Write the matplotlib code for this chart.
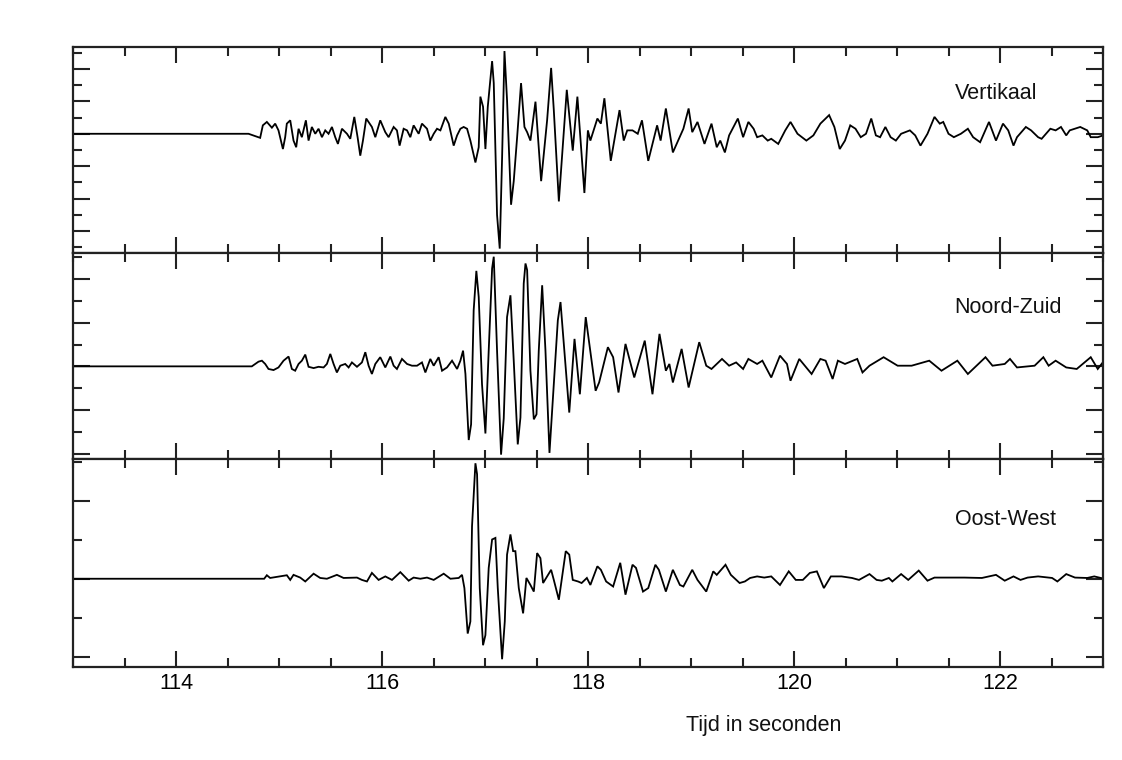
import matplotlib
matplotlib.use("Agg")
import matplotlib.pyplot as plt
from matplotlib.ticker import MultipleLocator
from matplotlib import font_manager

# ---------------- data (time in s, amplitude in panel tick units) ----------------
vert_t = [113.0, 114.704, 114.817, 114.843, 114.882, 114.931, 114.963, 114.995, 115.038, 115.060,
          115.076, 115.109, 115.141, 115.167, 115.190, 115.222, 115.261, 115.287, 115.319, 115.352,
          115.384, 115.417, 115.449, 115.481, 115.514, 115.546, 115.572, 115.611, 115.660, 115.692,
          115.731, 115.763, 115.789, 115.815, 115.847, 115.902, 115.935, 115.983, 116.032, 116.064,
          116.113, 116.145, 116.171, 116.210, 116.243, 116.275, 116.307, 116.356, 116.388, 116.437,
          116.469, 116.502, 116.534, 116.567, 116.615, 116.648, 116.696, 116.729, 116.761, 116.793,
          116.826, 116.858, 116.907, 116.939, 116.955, 116.981, 117.004, 117.027, 117.069, 117.085,
          117.117, 117.143, 117.166, 117.189, 117.214, 117.253, 117.279, 117.312, 117.350, 117.383,
          117.409, 117.441, 117.490, 117.545, 117.603, 117.642, 117.668, 117.717,
          117.794, 117.852, 117.897, 117.965, 117.999, 118.023, 118.091, 118.125, 118.159, 118.221,
          118.306, 118.347, 118.381, 118.432, 118.483, 118.524, 118.585, 118.671, 118.705, 118.756,
          118.824, 118.926, 118.977, 119.012, 119.063, 119.131, 119.199, 119.250, 119.284, 119.329,
          119.370, 119.455, 119.506, 119.557, 119.608, 119.642, 119.693, 119.745, 119.779, 119.847,
          119.915, 119.966, 120.034, 120.120, 120.188, 120.256, 120.341, 120.392, 120.444, 120.495,
          120.546, 120.597, 120.648, 120.699, 120.750, 120.795, 120.836, 120.887, 120.938, 120.989,
          121.040, 121.125, 121.177, 121.228, 121.296, 121.364, 121.415, 121.449, 121.500, 121.552,
          121.620, 121.688, 121.739, 121.807, 121.893, 121.961, 122.029, 122.080, 122.131, 122.165,
          122.251, 122.302, 122.370, 122.404, 122.489, 122.540, 122.592, 122.643, 122.677, 122.779,
          122.847, 122.881, 122.949, 123.001]
vert_a = [0.0, 0.0, -0.25, 0.52, 0.73, 0.375, 0.625, 0.21, -0.94, -0.21,
          0.625, 0.83, -0.42, -0.83, 0.31, -0.21, 0.83, -0.42, 0.42, 0.0,
          0.31, -0.21, 0.21, 0.0, 0.42, -0.21, -0.625, 0.31, 0.0, -0.31,
          1.04, -0.21, -1.35, -0.42, 0.94, 0.42, -0.21, 0.83, 0.1, -0.21,
          0.42, 0.21, -0.73, 0.31, 0.21, -0.21, 0.52, 0.0, 0.625, 0.31,
          -0.42, 0.0, 0.31, 0.21, 1.04, 0.625, -0.73, -0.1, 0.31, 0.42,
          0.31, -0.42, -1.77, -0.83, 2.29, 1.67, -0.94, 1.67, 4.48, 3.125,
          -5.0, -7.08, -1.46, 5.10, 2.08, -4.375, -2.92, -0.21, 3.125, 0.42,
          0.1, -0.42, 1.98, -2.92, 0.83, 4.06, 1.46, -4.17,
          2.71, -1.04, 2.29, -3.65, 0.21, -0.42, 0.94, 0.625, 2.19, -1.67,
          1.46, -0.42, 0.21, 0.21, 0.0, 0.83, -1.67, 0.52, -0.42, 1.56,
          -1.15, 0.31, 1.56, 0.1, 0.73, -0.625, 0.625, -0.83, -0.42, -1.15,
          -0.1, 0.94, -0.21, 0.73, 0.31, -0.21, -0.1, -0.42, -0.31, -0.625,
          0.21, 0.73, 0.0, -0.42, -0.1, 0.625, 1.15, 0.42, -0.94, -0.42,
          0.52, 0.31, -0.21, 0.0, 0.94, -0.1, -0.21, 0.42, -0.21, -0.42,
          0.0, 0.21, -0.1, -0.73, 0.0, 1.04, 0.625, 0.73, 0.0, -0.21,
          0.0, 0.31, -0.21, -0.52, 0.73, -0.42, 0.625, 0.21, -0.73, -0.21,
          0.42, 0.21, -0.21, -0.31, 0.31, 0.21, 0.42, -0.1, 0.21, 0.42,
          0.21, -0.21, -0.21, -0.1]

nz_t = [113.0, 114.736, 114.801, 114.834, 114.866, 114.898, 114.947, 114.995, 115.044, 115.093,
        115.125, 115.157, 115.190, 115.222, 115.255, 115.287, 115.336, 115.384, 115.433, 115.465,
        115.498, 115.530, 115.562, 115.595, 115.643, 115.676, 115.708, 115.757, 115.805, 115.838,
        115.870, 115.902, 115.935, 115.983, 116.032, 116.081, 116.113, 116.145, 116.194, 116.243,
        116.291, 116.340, 116.388, 116.421, 116.469, 116.502, 116.550, 116.583, 116.631, 116.680,
        116.729, 116.761, 116.787, 116.810, 116.842, 116.865, 116.890, 116.916, 116.939, 116.971,
        117.004, 117.036, 117.069, 117.085, 117.117, 117.156, 117.182, 117.214, 117.247, 117.279,
        117.318, 117.344, 117.376, 117.393, 117.409, 117.441, 117.474, 117.500, 117.522, 117.555,
        117.587, 117.626, 117.668, 117.707, 117.733,
        117.818, 117.869, 117.921, 117.978, 118.074, 118.108, 118.193, 118.244, 118.296, 118.364,
        118.449, 118.551, 118.626, 118.694, 118.756, 118.790, 118.824, 118.909, 118.977, 119.080,
        119.148, 119.199, 119.301, 119.370, 119.438, 119.506, 119.557, 119.642, 119.693, 119.779,
        119.864, 119.932, 119.966, 120.051, 120.171, 120.256, 120.307, 120.375, 120.426, 120.495,
        120.614, 120.665, 120.733, 120.870, 121.006, 121.142, 121.313, 121.432, 121.586, 121.688,
        121.859, 121.927, 122.046, 122.097, 122.165, 122.336, 122.421, 122.472, 122.540, 122.643,
        122.745, 122.881, 122.949, 123.011]
nz_a = [0.0, 0.0, 0.215, 0.26, 0.11, -0.12, -0.17, -0.05, 0.26, 0.45,
        -0.12, -0.2, 0.11, 0.26, 0.54, -0.02, -0.08, -0.02, -0.05, 0.11,
        0.57, 0.11, -0.28, 0.03, 0.11, -0.05, 0.18, -0.02, 0.18, 0.65,
        0.03, -0.35, 0.11, 0.42, -0.05, 0.45, 0.03, -0.12, 0.34, 0.11,
        0.03, 0.03, 0.18, -0.28, 0.34, 0.03, 0.42, -0.2, -0.05, 0.26,
        -0.12, 0.26, 0.72, -0.35, -3.38, -2.66, 2.57, 4.38, 3.18, -0.82,
        -3.08, 0.72, 4.49, 5.03, 0.72, -4.05, -2.38, 2.26, 3.26, 0.26,
        -3.58, -2.35, 3.8, 4.72, 4.42, -0.2, -2.43, -2.2, 0.72, 3.72,
        0.72, -3.97, -0.82, 2.11, 2.95,
        -2.12, 1.26, -1.28, 2.26, -1.12, -0.74, 0.88, 0.42, -1.2, 1.03,
        -0.51, 1.18, -1.28, 1.49, -0.2, 0.11, -0.74, 0.8, -0.97, 1.11,
        0.03, -0.12, 0.34, 0.03, 0.18, -0.12, 0.34, 0.11, 0.26, -0.51,
        0.49, 0.11, -0.66, 0.34, -0.35, 0.34, 0.26, -0.58, 0.26, 0.11,
        0.34, -0.28, 0.03, 0.42, 0.03, 0.03, 0.26, -0.2, 0.26, -0.35,
        0.42, 0.03, 0.11, 0.34, -0.05, 0.03, 0.42, 0.03, 0.26, -0.05,
        -0.12, 0.42, -0.12, 0.26]

ow_t = [113.0, 114.856, 114.882, 114.914, 115.076, 115.109, 115.141, 115.206, 115.255, 115.336,
        115.400, 115.465, 115.562, 115.627, 115.757, 115.805, 115.854, 115.902, 115.967, 116.032,
        116.097, 116.178, 116.259, 116.307, 116.372, 116.437, 116.502, 116.599, 116.664, 116.745,
        116.777, 116.800, 116.832, 116.858, 116.874, 116.907, 116.923, 116.949, 116.981, 117.004,
        117.036, 117.069, 117.101, 117.124, 117.166, 117.192, 117.214, 117.247, 117.273, 117.295,
        117.328, 117.370, 117.402, 117.441, 117.474, 117.506, 117.538, 117.564, 117.603, 117.642,
        117.668, 117.717,
        117.784, 117.818, 117.852, 117.903, 117.938, 117.989, 118.023, 118.091, 118.125, 118.176,
        118.244, 118.313, 118.364, 118.432, 118.466, 118.534, 118.585, 118.654, 118.688, 118.756,
        118.824, 118.892, 118.926, 119.012, 119.063, 119.148, 119.216, 119.250, 119.335, 119.387,
        119.472, 119.523, 119.574, 119.642, 119.711, 119.779, 119.864, 119.949, 120.017, 120.086,
        120.154, 120.222, 120.290, 120.358, 120.461, 120.563, 120.631, 120.733, 120.802, 120.853,
        120.921, 120.955, 121.040, 121.109, 121.211, 121.296, 121.364, 121.483, 121.654, 121.824,
        121.961, 122.046, 122.131, 122.199, 122.268, 122.370, 122.506, 122.557, 122.643, 122.728,
        122.847, 122.915, 123.011]
ow_a = [0.0, 0.0, 0.09, 0.02, 0.09, -0.03, 0.1, 0.03, -0.07, 0.13,
        0.02, 0.0, 0.1, 0.02, 0.03, -0.03, -0.07, 0.15, -0.03, 0.06,
        -0.03, 0.17, -0.05, 0.03, 0.0, 0.03, -0.03, 0.13, 0.0, 0.02,
        0.1, -0.24, -1.41, -1.1, 1.35, 2.97, 2.69, -0.24, -1.71, -1.45,
        0.28, 1.01, 1.05, -0.24, -2.07, -1.1, 0.62, 1.14, 0.71, 0.71,
        -0.24, -0.89, 0.02, -0.16, -0.33, 0.66, 0.53, -0.11, 0.06, 0.23,
        -0.03, -0.54,
        0.71, 0.62, -0.03, -0.07, -0.11, 0.02, -0.16, 0.32, 0.23, -0.07,
        -0.2, 0.41, -0.41, 0.36, 0.28, -0.33, -0.24, 0.36, 0.23, -0.33,
        0.23, -0.16, -0.2, 0.23, -0.03, -0.33, 0.19, 0.1, 0.36, 0.1,
        -0.11, -0.07, 0.02, 0.06, 0.03, 0.06, -0.16, 0.19, -0.03, -0.03,
        0.15, 0.19, -0.24, 0.06, 0.06, 0.02, -0.03, 0.12, -0.03, -0.05,
        0.02, -0.07, 0.12, -0.03, 0.21, -0.05, 0.03, 0.03, 0.03, 0.02,
        0.1, -0.05, 0.06, -0.03, 0.03, 0.06, 0.02, -0.07, 0.12, 0.03,
        0.02, 0.06, 0.0]

panel_names = ["Vertikaal", "Noord-Zuid", "Oost-West"]
panel_ylims = [(-7.35, 5.35), (-4.25, 5.2), (-2.27, 3.08)]
x_range = (113.0, 123.0)
x_major_ticks = [114, 116, 118, 120, 122]
x_label = "Tijd in seconden"

# ---------------- figure ----------------
W, H = 1122, 760
fig = plt.figure(figsize=(W / 100, H / 100), dpi=100)

avail = {f.name for f in font_manager.fontManager.ttflist}
main_font = "Liberation Sans" if "Liberation Sans" in avail else "DejaVu Sans"
tick_font = "Liberation Sans Narrow" if "Liberation Sans Narrow" in avail else main_font

left, right = 73 / W, 1103 / W
edges_px = [47, 253, 459, 667]
traces = [(vert_t, vert_a), (nz_t, nz_a), (ow_t, ow_a)]
label_y = [0.775, 0.736, 0.71]

axes = []
for i in range(3):
    top = 1 - edges_px[i] / H
    bot = 1 - edges_px[i + 1] / H
    ax = fig.add_axes([left, bot, right - left, top - bot])
    t, a = traces[i]
    ax.plot(t, a, color="black", lw=1.3, solid_joinstyle="miter")
    ax.set_xlim(*x_range)
    ax.set_ylim(*panel_ylims[i])
    ax.xaxis.set_major_locator(MultipleLocator(2))
    ax.xaxis.set_minor_locator(MultipleLocator(0.5))
    ax.yaxis.set_major_locator(MultipleLocator(2))
    ax.yaxis.set_minor_locator(MultipleLocator(1))
    ax.tick_params(which="both", direction="in", top=True, bottom=True,
                   left=True, right=True, width=1.5, color="#222222")
    ax.tick_params(axis="x", which="major", length=11.5)
    ax.tick_params(axis="x", which="minor", length=6.5)
    ax.tick_params(axis="y", which="major", length=12.5)
    ax.tick_params(axis="y", which="minor", length=6.5)
    ax.set_yticklabels([])
    for s in ax.spines.values():
        s.set_linewidth(1.6)
        s.set_color("#222222")
    ax.text(0.856, label_y[i], panel_names[i], transform=ax.transAxes,
            ha="left", va="center", fontsize=15.5, family=main_font, color="#111111")
    if i < 2:
        ax.set_xticklabels([])
    else:
        ax.set_xticks(x_major_ticks)
        ax.set_xticklabels([str(v) for v in x_major_ticks], family=tick_font, fontsize=15.5)
        ax.tick_params(axis="x", which="major", pad=4)
    axes.append(ax)

fig.text(764 / W, 1 - 725 / H, x_label, ha="center", va="center",
         fontsize=15.5, family=main_font, color="#111111")

fig.savefig("out.png", dpi=100, facecolor="white")
